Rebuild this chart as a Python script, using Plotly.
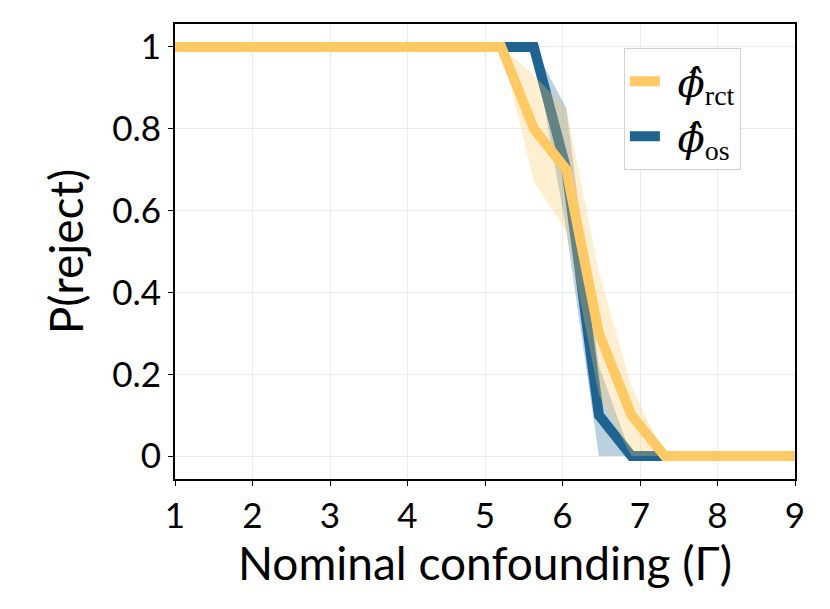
import plotly.graph_objects as go

# Nominal confounding grid (Gamma values)
gamma = [1.0, 1.42, 1.84, 2.26, 2.68, 3.11, 3.53, 3.95, 4.37, 4.79,
         5.21, 5.63, 6.05, 6.47, 6.89, 7.32, 7.74, 8.16, 8.58, 9.0]

# RCT-based test: rejection rate and band
rct = [1, 1, 1, 1, 1, 1, 1, 1, 1, 1, 1, 0.80, 0.70, 0.30, 0.10, 0, 0, 0, 0, 0]
rct_lo = [1, 1, 1, 1, 1, 1, 1, 1, 1, 1, 1, 0.67, 0.55, 0.15, 0.0, 0, 0, 0, 0, 0]
rct_hi = [1, 1, 1, 1, 1, 1, 1, 1, 1, 1, 1, 0.93, 0.85, 0.45, 0.17, 0, 0, 0, 0, 0]

# Observational test: rejection rate and band
obs = [1, 1, 1, 1, 1, 1, 1, 1, 1, 1, 1, 1, 0.70, 0.10, 0, 0, 0, 0, 0, 0]
obs_lo = [1, 1, 1, 1, 1, 1, 1, 1, 1, 1, 1, 1, 0.55, 0.0, 0, 0, 0, 0, 0, 0]
obs_hi = [1, 1, 1, 1, 1, 1, 1, 1, 1, 1, 1, 1, 0.85, 0.22, 0, 0, 0, 0, 0, 0]

orange = '#FFC966'
blue = '#1F6391'
sans = 'Lato'

fig = go.Figure()


def add_band(lo, hi, fill):
    fig.add_trace(go.Scatter(x=gamma, y=lo, mode='lines', line=dict(width=0),
                             showlegend=False, hoverinfo='skip'))
    fig.add_trace(go.Scatter(x=gamma, y=hi, mode='lines', line=dict(width=0),
                             fill='tonexty', fillcolor=fill,
                             showlegend=False, hoverinfo='skip'))


def phi_label(sub):
    # hat-phi from DejaVu Serif (places the hat properly), subscript in a Times-like face
    return ('&nbsp;<i>ϕ̂</i><sub><span style="font-family:Liberation Serif">%s</span></sub>' % sub)


# blue first, then orange on top (as in the original)
add_band(obs_lo, obs_hi, 'rgba(31,99,145,0.3)')
fig.add_trace(go.Scatter(x=gamma, y=obs, mode='lines', line=dict(color=blue, width=10),
                         name=phi_label('os'), legendrank=2))
add_band(rct_lo, rct_hi, 'rgba(255,201,102,0.3)')
fig.add_trace(go.Scatter(x=gamma, y=rct, mode='lines', line=dict(color=orange, width=10),
                         name=phi_label('rct'), legendrank=1))

axis_common = dict(
    showline=True, linecolor='black', linewidth=2, mirror=True,
    ticks='outside', ticklen=5, tickcolor='black',
    showgrid=True, gridcolor='#E8EBF5', gridwidth=1,
    zeroline=False,
    tickfont=dict(family=sans, size=35, color='black'),
)

# page body has an 8px margin, so the figure is shrunk by that amount
fig.update_layout(
    width=822, height=601,
    margin=dict(l=167, r=35, t=16, b=130),
    plot_bgcolor='white', paper_bgcolor='white',
    font=dict(family=sans, color='black'),
    xaxis=dict(range=[1, 9], dtick=1,
               title=dict(text='Nominal confounding (Γ)', font=dict(family=sans, size=46), standoff=10),
               **axis_common),
    yaxis=dict(range=[-0.056, 1.056], tickvals=[0, 0.2, 0.4, 0.6, 0.8, 1],
               ticktext=['0', '0.2', '0.4', '0.6', '0.8', '1'],
               title=dict(text='P(reject)', font=dict(family=sans, size=46), standoff=14),
               **axis_common),
    legend=dict(x=0.724, y=0.948, xanchor='left', yanchor='top',
                bgcolor='white', bordercolor='#D0D0D0', borderwidth=1,
                font=dict(family='DejaVu Serif', size=40, color='black'),
                traceorder='normal'),
)

fig.write_html("out.html")
